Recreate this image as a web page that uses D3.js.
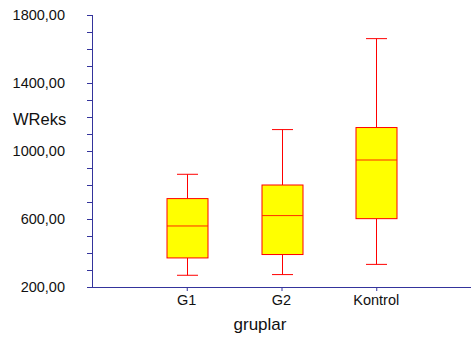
<!DOCTYPE html>
<html>
<head>
<meta charset="utf-8">
<script src="https://cdn.jsdelivr.net/npm/d3@7"></script>
<style>
  html, body { margin: 0; padding: 0; background: #fff; }
  svg { display: block; font-family: "Liberation Sans", Arial, sans-serif; }
</style>
</head>
<body>
<svg id="chart" width="472" height="342"></svg>
<script>
// Box plot of WReks by group
const categories = ["G1", "G2", "Kontrol"];
const whiskerLow  = [269, 273, 333];
const quartile1   = [371, 391, 602];
const medians     = [559, 620, 947];
const quartile3   = [720, 800, 1138];
const whiskerHigh = [863, 1126, 1661];
const majorTicks  = [200, 600, 1000, 1400, 1800];
const minorTicks  = d3.range(200, 1801, 100);

const axisColor = "#34349c";
const boxStroke = "#ff0000";
const boxFill = "#ffff00";

const svg = d3.select("#chart");

const x = d3.scalePoint().domain(categories).range([92, 471]).padding(1);
const y = d3.scaleLinear().domain([200, 1800]).range([287, 15]);

const fmt = v => d3.format(".2f")(v).replace(".", ",");

// y axis: minor ticks every 100, labels every 400
const yAxis = svg.append("g").attr("transform", "translate(92,0)")
  .call(d3.axisLeft(y).tickValues(minorTicks).tickSize(5).tickFormat(""));
yAxis.select(".domain").attr("stroke", axisColor).attr("d", `M0.5,${y(1800)}V${y(200)}`);
yAxis.selectAll(".tick line").attr("stroke", axisColor);

svg.append("g").selectAll("text").data(majorTicks).join("text")
  .attr("x", 65).attr("y", d => y(d)).attr("dy", "0.35em")
  .attr("text-anchor", "end").attr("font-size", "14.5px").attr("fill", "#111")
  .text(fmt);

// x axis
const xAxis = svg.append("g").attr("transform", "translate(0,287)")
  .call(d3.axisBottom(x).tickSize(4).tickFormat(""));
xAxis.select(".domain").attr("stroke", axisColor).attr("d", "M92,0.5H471");
xAxis.selectAll(".tick line").attr("stroke", axisColor);

svg.append("g").selectAll("text").data(categories).join("text")
  .attr("x", d => x(d)).attr("y", 305)
  .attr("text-anchor", "middle").attr("font-size", "14.5px").attr("fill", "#111")
  .text(d => d);

// axis titles
svg.append("text").attr("x", 13).attr("y", 125)
  .attr("font-size", "16.5px").attr("fill", "#111").text("WReks");
svg.append("text").attr("x", 260).attr("y", 330)
  .attr("text-anchor", "middle").attr("font-size", "17px").attr("fill", "#111").text("gruplar");

// boxes
const boxW = 41, capW = 21;
const rows = categories.map((c, i) => ({
  c, lo: whiskerLow[i], q1: quartile1[i], med: medians[i], q3: quartile3[i], hi: whiskerHigh[i]
}));

const g = svg.append("g").selectAll("g").data(rows).join("g")
  .attr("transform", d => `translate(${Math.round(x(d.c)) + 0.5},0)`);

g.append("line").attr("stroke", boxStroke)
  .attr("x1", 0).attr("x2", 0).attr("y1", d => y(d.hi)).attr("y2", d => y(d.q3));
g.append("line").attr("stroke", boxStroke)
  .attr("x1", 0).attr("x2", 0).attr("y1", d => y(d.q1)).attr("y2", d => y(d.lo));
g.append("line").attr("stroke", boxStroke)
  .attr("x1", -capW / 2).attr("x2", capW / 2).attr("y1", d => y(d.hi)).attr("y2", d => y(d.hi));
g.append("line").attr("stroke", boxStroke)
  .attr("x1", -capW / 2).attr("x2", capW / 2).attr("y1", d => y(d.lo)).attr("y2", d => y(d.lo));
g.append("rect").attr("fill", boxFill).attr("stroke", boxStroke)
  .attr("x", -boxW / 2).attr("width", boxW)
  .attr("y", d => y(d.q3)).attr("height", d => y(d.q1) - y(d.q3));
g.append("line").attr("stroke", "#ff2a00")
  .attr("x1", -boxW / 2).attr("x2", boxW / 2).attr("y1", d => y(d.med)).attr("y2", d => y(d.med));
</script>
</body>
</html>
